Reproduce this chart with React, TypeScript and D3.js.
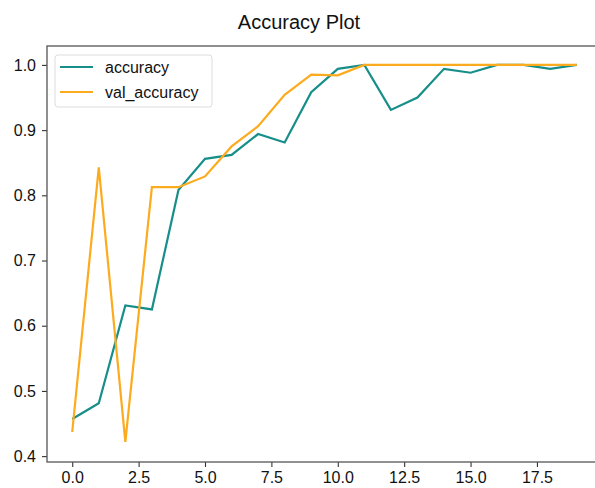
import React, { useEffect, useRef } from 'react';
import * as d3 from 'd3';

const W = 595;
const H = 488;
const margin = { top: 46, left: 47, bottom: 26 };
const plotRight = 602; // right edge falls outside the picture

const epochs = d3.range(0, 20);
const accuracy = [
  0.457, 0.481, 0.631, 0.625, 0.808, 0.856, 0.862, 0.894, 0.881, 0.958,
  0.994, 1.0, 0.931, 0.95, 0.994, 0.988, 1.0, 1.0, 0.994, 1.0,
];
const valAccuracy = [
  0.437, 0.843, 0.422, 0.8125, 0.8125, 0.829, 0.875, 0.906, 0.954, 0.985,
  0.984, 1.0, 1.0, 1.0, 1.0, 1.0, 1.0, 1.0, 1.0, 1.0,
];
const xTicks = [0, 2.5, 5, 7.5, 10, 12.5, 15, 17.5];
const yTicks = [0.4, 0.5, 0.6, 0.7, 0.8, 0.9, 1.0];

const series = [
  { name: 'accuracy', values: accuracy, color: '#178e89' },
  { name: 'val_accuracy', values: valAccuracy, color: '#fdab1e' },
];

const font = 'Liberation Sans, Arial, sans-serif';

export default function App() {
  const ref = useRef<SVGSVGElement>(null);

  useEffect(() => {
    const svg = d3.select(ref.current);
    svg.selectAll('*').remove();

    const x = d3.scaleLinear().domain([-0.95, 19.95]).range([margin.left, plotRight]);
    const y = d3.scaleLinear().domain([0.391, 1.029]).range([H - margin.bottom, margin.top]);

    const xAxis = svg
      .append('g')
      .attr('transform', `translate(0, ${H - margin.bottom})`)
      .call(d3.axisBottom(x).tickValues(xTicks).tickFormat(d3.format('.1f')).tickSize(5).tickPadding(5));
    const yAxis = svg
      .append('g')
      .attr('transform', `translate(${margin.left}, 0)`)
      .call(d3.axisLeft(y).tickValues(yTicks).tickFormat(d3.format('.1f')).tickSize(5).tickPadding(6));

    [xAxis, yAxis].forEach(a => {
      a.select('.domain').remove();
      a.selectAll('line').attr('stroke', '#333').attr('stroke-width', 1.1);
      a.selectAll('text').attr('font-family', font).attr('font-size', 16).attr('fill', '#111');
    });

    // spines
    svg
      .append('rect')
      .attr('x', margin.left)
      .attr('y', margin.top)
      .attr('width', plotRight - margin.left)
      .attr('height', H - margin.bottom - margin.top)
      .attr('fill', 'none')
      .attr('stroke', '#555')
      .attr('stroke-width', 1.3);

    const line = d3
      .line<number>()
      .x((_, i) => x(epochs[i]))
      .y(d => y(d));

    series.forEach(s => {
      svg
        .append('path')
        .attr('d', line(s.values))
        .attr('fill', 'none')
        .attr('stroke', s.color)
        .attr('stroke-width', 2.2);
    });

    // legend
    const lg = svg.append('g');
    lg.append('rect')
      .attr('x', 55)
      .attr('y', 55)
      .attr('width', 157)
      .attr('height', 52)
      .attr('rx', 3)
      .attr('fill', 'white')
      .attr('fill-opacity', 0.8)
      .attr('stroke', '#ddd');
    series.forEach((s, i) => {
      const ly = 67 + i * 25;
      lg.append('line')
        .attr('x1', 60)
        .attr('x2', 93)
        .attr('y1', ly)
        .attr('y2', ly)
        .attr('stroke', s.color)
        .attr('stroke-width', 2.2);
      lg.append('text')
        .attr('x', 105)
        .attr('y', ly)
        .attr('dy', '0.35em')
        .attr('font-family', font)
        .attr('font-size', 16)
        .attr('fill', '#111')
        .text(s.name);
    });

    svg
      .append('text')
      .attr('x', 299)
      .attr('y', 29)
      .attr('text-anchor', 'middle')
      .attr('font-family', font)
      .attr('font-size', 20)
      .attr('fill', '#111')
      .text('Accuracy Plot');
  }, []);

  return (
    <svg
      ref={ref}
      width={W}
      height={H}
      style={{ position: 'absolute', left: 0, top: 0, background: 'white' }}
    />
  );
}
